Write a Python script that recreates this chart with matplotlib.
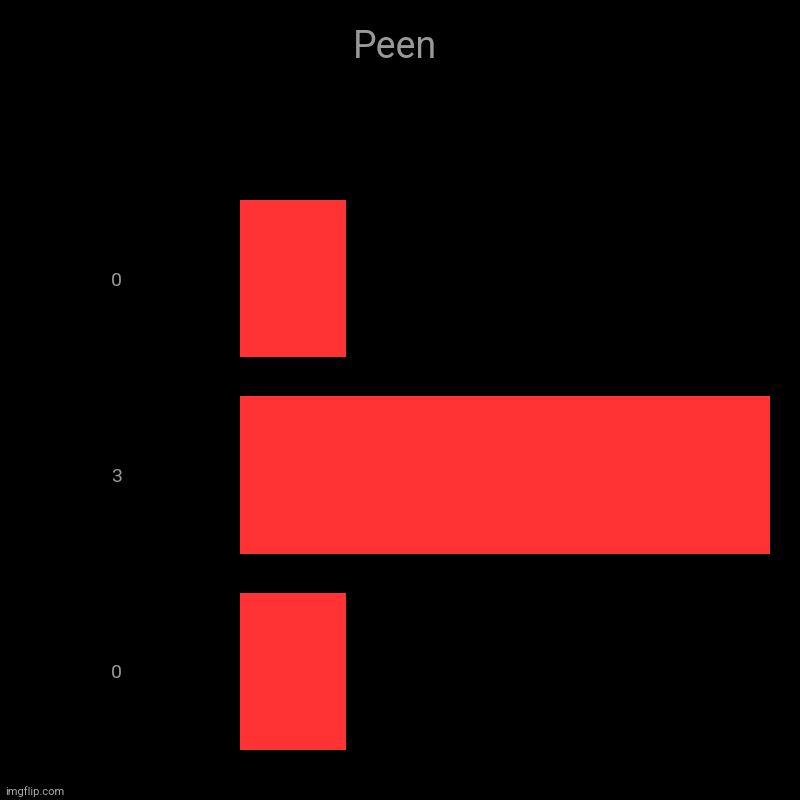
import matplotlib.pyplot as plt

title = 'Peen'
labels = ['0', '3', '0']
values = [1, 5, 1]

plt.rcParams['font.family'] = ['Roboto', 'DejaVu Sans']

fig = plt.figure(figsize=(8, 8), dpi=100, facecolor='black')
ax = fig.add_axes([0.3, 0.0625, 0.6625, 0.6875], facecolor='black')

pos = list(range(len(values)))
ax.barh(pos, values, height=0.8, color='#ff3333')
ax.set_xlim(0, max(values))
ax.set_ylim(len(values) - 0.6, -0.4)
ax.set_yticks(pos)
ax.set_yticklabels(labels, color='#999999', fontsize=14, ha='center')
ax.tick_params(axis='y', length=0, pad=89)
ax.set_xticks([])
for s in ax.spines.values():
    s.set_visible(False)

fig.text(0.494, 0.94, title, color='#999999', fontsize=27, ha='center', va='center')
fig.text(0.006, 0.011, 'imgflip.com', color='#aaaaaa', fontsize=8, ha='left', va='center')

fig.savefig('out.png', dpi=100, facecolor='black')
